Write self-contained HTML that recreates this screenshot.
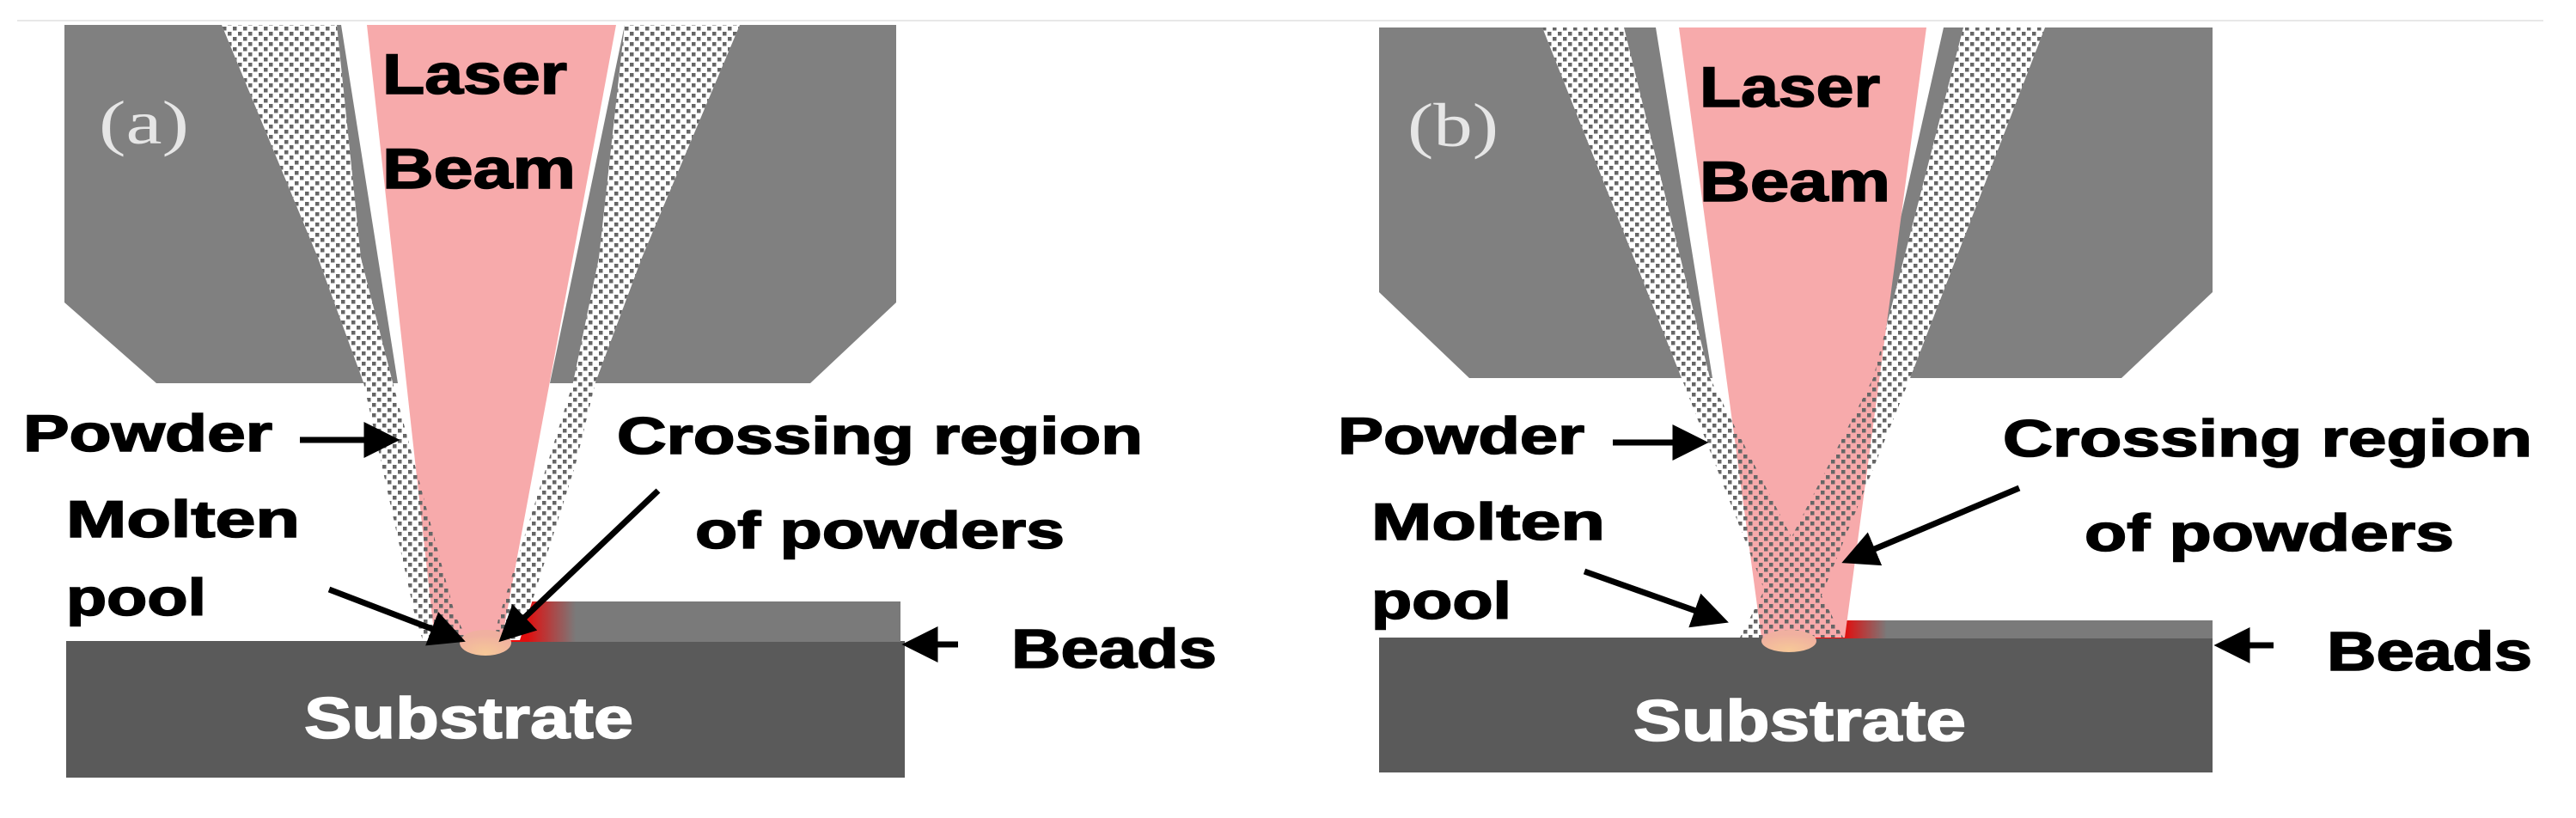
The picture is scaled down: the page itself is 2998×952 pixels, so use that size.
<!DOCTYPE html>
<html><head><meta charset="utf-8"><style>
html,body{margin:0;padding:0;background:#fff;}
svg{display:block;}
text{font-family:"Liberation Sans",sans-serif;font-weight:bold;fill:#000;stroke:#000;stroke-width:1.6px;}
.ser{font-family:"Liberation Serif",serif;font-weight:normal;fill:#e6e6e6;stroke:none;}
.wt{fill:#fff;stroke:#fff;}
</style></head><body>
<svg width="2998" height="952" viewBox="0 0 2998 952" xmlns="http://www.w3.org/2000/svg">
<defs>
<pattern id="dots" width="12" height="12" patternUnits="userSpaceOnUse">
<rect x="1" y="1" width="4.5" height="4.5" fill="#666"/>
<rect x="7" y="7" width="4.5" height="4.5" fill="#666"/>
</pattern>
<linearGradient id="redA" x1="577" y1="0" x2="670" y2="0" gradientUnits="userSpaceOnUse">
<stop offset="0" stop-color="#ff0000"/><stop offset="0.4" stop-color="#e01010"/><stop offset="1" stop-color="#7a7a7a"/>
</linearGradient>
<linearGradient id="redB" x1="2108" y1="0" x2="2196" y2="0" gradientUnits="userSpaceOnUse">
<stop offset="0" stop-color="#ff0000"/><stop offset="0.45" stop-color="#e01010"/><stop offset="1" stop-color="#7a7a7a"/>
</linearGradient>
<radialGradient id="pool" cx="0.5" cy="0.9" r="0.7">
<stop offset="0" stop-color="#f6c898"/><stop offset="1" stop-color="#f0b0a0"/>
</radialGradient>
<marker id="ah" markerWidth="6" markerHeight="6" refX="4.5" refY="3" orient="auto" markerUnits="strokeWidth">
<path d="M0,0 L6,3 L0,6 Z" fill="#000"/>
</marker>
</defs>

<rect x="20" y="23" width="2940" height="2" fill="#e8e8e8"/>

<!-- ========== Panel A ========== -->
<polygon points="75,29 397,29 463,446 182,446 75,352" fill="#808080"/>
<polygon points="727,29 1043,29 1043,352 943,446 640,446" fill="#808080"/>
<rect x="77" y="746" width="976" height="159" fill="#5a5a5a"/>
<rect x="577" y="700" width="471" height="47" fill="#7a7a7a"/>
<rect x="577" y="700" width="93" height="47" fill="url(#redA)"/>
<polygon points="258,29 392,29 420,300 457,445 530,717 545,745 492,745 483,717 423,445 370,300" fill="#fff"/>
<polygon points="727,29 861,29 747,300 693,445 670,540 613,720 605,745 575,745 580,720 637,540 667,445 697,300" fill="#fff"/>
<polygon points="427,29 717,29 584,745 506,745" fill="#f7aaab"/>
<polygon points="258,29 392,29 420,300 457,445 530,717 545,745 492,745 483,717 423,445 370,300" fill="url(#dots)"/>
<polygon points="727,29 861,29 747,300 693,445 670,540 613,720 605,745 575,745 580,720 637,540 667,445 697,300" fill="url(#dots)"/>
<ellipse cx="565" cy="748" rx="30" ry="15" fill="url(#pool)"/>

<text class="ser" x="115" y="167" font-size="72" textLength="105" lengthAdjust="spacingAndGlyphs">(a)</text>
<text x="445" y="109" font-size="66" textLength="215" lengthAdjust="spacingAndGlyphs">Laser</text>
<text x="445" y="219" font-size="66" textLength="225" lengthAdjust="spacingAndGlyphs">Beam</text>
<text x="27" y="525" font-size="60" textLength="290" lengthAdjust="spacingAndGlyphs">Powder</text>
<text x="718" y="528" font-size="60" textLength="612" lengthAdjust="spacingAndGlyphs">Crossing region</text>
<text x="809" y="638" font-size="60" textLength="430" lengthAdjust="spacingAndGlyphs">of powders</text>
<text x="77" y="625" font-size="60" textLength="272" lengthAdjust="spacingAndGlyphs">Molten</text>
<text x="77" y="716" font-size="60" textLength="163" lengthAdjust="spacingAndGlyphs">pool</text>
<text x="1177" y="777" font-size="64" textLength="239" lengthAdjust="spacingAndGlyphs">Beads</text>
<text class="wt" x="354" y="859" font-size="68" textLength="383" lengthAdjust="spacingAndGlyphs">Substrate</text>

<line x1="349" y1="512" x2="455" y2="512" stroke="#000" stroke-width="7" marker-end="url(#ah)"/>
<line x1="383" y1="686" x2="532" y2="743" stroke="#000" stroke-width="7" marker-end="url(#ah)"/>
<line x1="766" y1="571" x2="588" y2="740" stroke="#000" stroke-width="7" marker-end="url(#ah)"/>
<line x1="1115" y1="750" x2="1060" y2="750" stroke="#000" stroke-width="7" marker-end="url(#ah)"/>

<!-- ========== Panel B ========== -->
<polygon points="1605,32 1927,32 1993,440 1710,440 1605,340" fill="#808080"/>
<polygon points="2262,32 2575,32 2575,340 2469,440 2170,440" fill="#808080"/>
<rect x="1605" y="742" width="970" height="157" fill="#5a5a5a"/>
<rect x="2108" y="722" width="467" height="21" fill="#7a7a7a"/>
<rect x="2108" y="722" width="88" height="21" fill="url(#redB)"/>
<polygon points="1795,32 1890,32 1990,440 2145,742 2075,742 1957,440" fill="#fff"/>
<polygon points="2285,32 2380,32 2223,440 2100,742 2025,742 2180,440" fill="#fff"/>
<polygon points="1954,32 2242,32 2147,742 2050,742" fill="#f7aaab"/>
<polygon points="1795,32 1890,32 1990,440 2145,742 2075,742 1957,440" fill="url(#dots)"/>
<polygon points="2285,32 2380,32 2223,440 2100,742 2025,742 2180,440" fill="url(#dots)"/>
<ellipse cx="2082" cy="746" rx="32" ry="13" fill="url(#pool)"/>

<text class="ser" x="1638" y="170" font-size="72" textLength="106" lengthAdjust="spacingAndGlyphs">(b)</text>
<text x="1978" y="124" font-size="66" textLength="210" lengthAdjust="spacingAndGlyphs">Laser</text>
<text x="1978" y="234" font-size="66" textLength="222" lengthAdjust="spacingAndGlyphs">Beam</text>
<text x="1557" y="528" font-size="60" textLength="287" lengthAdjust="spacingAndGlyphs">Powder</text>
<text x="2331" y="531" font-size="60" textLength="616" lengthAdjust="spacingAndGlyphs">Crossing region</text>
<text x="2426" y="641" font-size="60" textLength="430" lengthAdjust="spacingAndGlyphs">of powders</text>
<text x="1596" y="628" font-size="60" textLength="272" lengthAdjust="spacingAndGlyphs">Molten</text>
<text x="1596" y="720" font-size="60" textLength="163" lengthAdjust="spacingAndGlyphs">pool</text>
<text x="2708" y="780" font-size="64" textLength="239" lengthAdjust="spacingAndGlyphs">Beads</text>
<text class="wt" x="1901" y="862" font-size="68" textLength="387" lengthAdjust="spacingAndGlyphs">Substrate</text>

<line x1="1877" y1="515" x2="1978" y2="515" stroke="#000" stroke-width="7" marker-end="url(#ah)"/>
<line x1="1844" y1="665" x2="2002" y2="721" stroke="#000" stroke-width="7" marker-end="url(#ah)"/>
<line x1="2350" y1="568" x2="2153" y2="651" stroke="#000" stroke-width="7" marker-end="url(#ah)"/>
<line x1="2646" y1="751" x2="2587" y2="751" stroke="#000" stroke-width="7" marker-end="url(#ah)"/>
</svg>
</body></html>
